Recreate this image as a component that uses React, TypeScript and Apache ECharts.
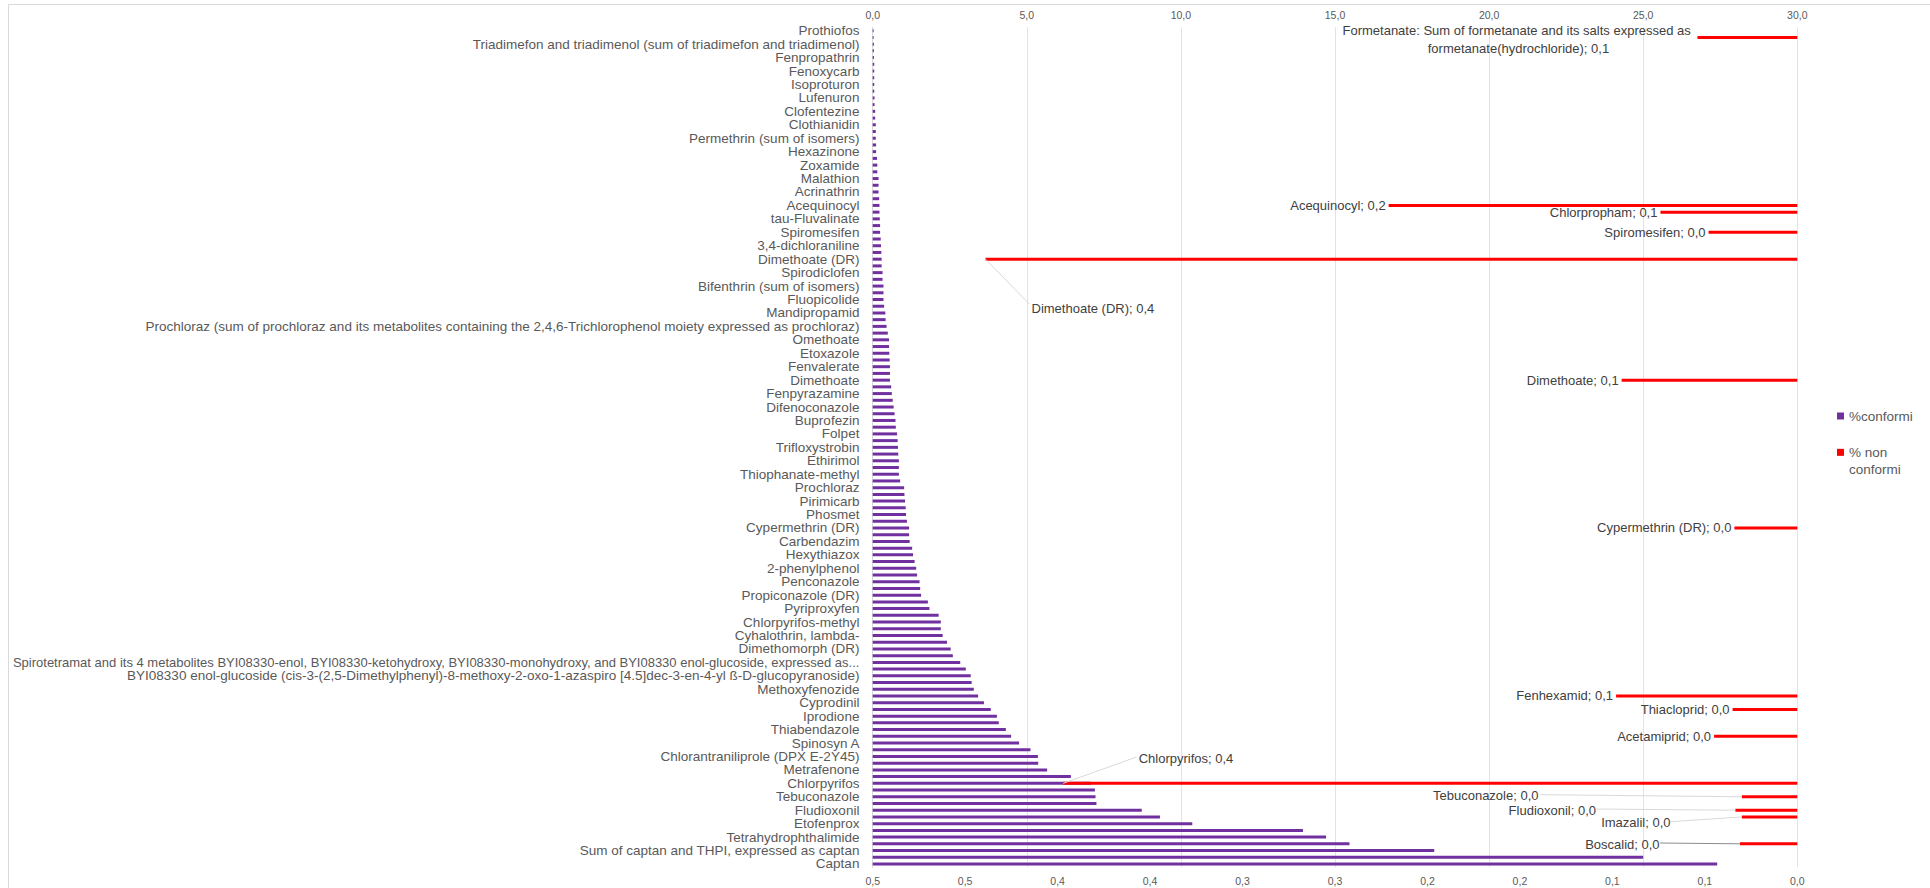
import React, { useEffect, useRef } from 'react';
import * as echarts from 'echarts';

// Category labels shown on the axis (every other category, top to bottom)
const shownLabels: string[] = [
  'Prothiofos',
  'Triadimefon and triadimenol (sum of triadimefon and triadimenol)',
  'Fenpropathrin',
  'Fenoxycarb',
  'Isoproturon',
  'Lufenuron',
  'Clofentezine',
  'Clothianidin',
  'Permethrin (sum of isomers)',
  'Hexazinone',
  'Zoxamide',
  'Malathion',
  'Acrinathrin',
  'Acequinocyl',
  'tau-Fluvalinate',
  'Spiromesifen',
  '3,4-dichloraniline',
  'Dimethoate (DR)',
  'Spirodiclofen',
  'Bifenthrin (sum of isomers)',
  'Fluopicolide',
  'Mandipropamid',
  'Prochloraz (sum of prochloraz and its metabolites containing the 2,4,6-Trichlorophenol moiety expressed as prochloraz)',
  'Omethoate',
  'Etoxazole',
  'Fenvalerate',
  'Dimethoate',
  'Fenpyrazamine',
  'Difenoconazole',
  'Buprofezin',
  'Folpet',
  'Trifloxystrobin',
  'Ethirimol',
  'Thiophanate-methyl',
  'Prochloraz',
  'Pirimicarb',
  'Phosmet',
  'Cypermethrin (DR)',
  'Carbendazim',
  'Hexythiazox',
  '2-phenylphenol',
  'Penconazole',
  'Propiconazole (DR)',
  'Pyriproxyfen',
  'Chlorpyrifos-methyl',
  'Cyhalothrin, lambda-',
  'Dimethomorph (DR)',
  'Spirotetramat and its 4 metabolites BYI08330-enol, BYI08330-ketohydroxy, BYI08330-monohydroxy, and BYI08330 enol-glucoside, expressed as...',
  'BYI08330 enol-glucoside (cis-3-(2,5-Dimethylphenyl)-8-methoxy-2-oxo-1-azaspiro [4.5]dec-3-en-4-yl ß-D-glucopyranoside)',
  'Methoxyfenozide',
  'Cyprodinil',
  'Iprodione',
  'Thiabendazole',
  'Spinosyn A',
  'Chlorantraniliprole (DPX E-2Y45)',
  'Metrafenone',
  'Chlorpyrifos',
  'Tebuconazole',
  'Fludioxonil',
  'Etofenprox',
  'Tetrahydrophthalimide',
  'Sum of captan and THPI, expressed as captan',
  'Captan',
];

// Categories between the shown labels (their axis labels are skipped)
const hiddenLabels: string[] = [
  'Formetanate: Sum of formetanate and its salts expressed as formetanate(hydrochloride)',
  '', '', '', '', '', '', '', '', '', '', '', '',
  'Chlorpropham',
  '', '', '', '', '', '', '', '', '', '', '', '', '', '', '', '', '', '', '', '', '', '', '', '', '', '', '', '', '', '', '', '', '', '', '',
  'Fenhexamid',
  'Thiacloprid',
  '',
  'Acetamiprid',
  '', '', '', '', '',
  'Imazalil',
  '',
  'Boscalid',
  '',
];

const categories: string[] = [];
shownLabels.forEach((s, i) => {
  categories.push(s);
  if (i < hiddenLabels.length) categories.push(hiddenLabels[i]);
});

// %conformi (top axis), one value per category, top to bottom
const conformi: number[] = [
  0.03, 0.03, 0.04, 0.04, 0.04, 0.05, 0.05, 0.05, 0.05, 0.05,
  0.06, 0.06, 0.08, 0.08, 0.10, 0.10, 0.10, 0.11, 0.11, 0.14,
  0.15, 0.15, 0.19, 0.19, 0.19, 0.21, 0.22, 0.22, 0.23, 0.24,
  0.24, 0.26, 0.27, 0.28, 0.29, 0.29, 0.32, 0.32, 0.35, 0.35,
  0.35, 0.37, 0.41, 0.42, 0.45, 0.49, 0.53, 0.53, 0.54, 0.55,
  0.56, 0.56, 0.56, 0.60, 0.62, 0.65, 0.68, 0.71, 0.74, 0.75,
  0.79, 0.81, 0.82, 0.83, 0.85, 0.85, 0.85, 0.89, 1.02, 1.03,
  1.05, 1.07, 1.08, 1.11, 1.18, 1.18, 1.20, 1.28, 1.31, 1.36,
  1.41, 1.44, 1.52, 1.54, 1.57, 1.79, 1.84, 2.14, 2.21, 2.21,
  2.27, 2.41, 2.53, 2.60, 2.84, 3.02, 3.18, 3.21, 3.28, 3.42,
  3.61, 3.83, 4.03, 4.09, 4.32, 4.49, 4.75, 5.12, 5.36, 5.37,
  5.66, 6.43, 7.09, 7.21, 7.23, 7.26, 8.73, 9.32, 10.37, 13.96,
  14.71, 15.47, 18.22, 25.0, 27.4,
];

// % non conformi (bottom, reversed axis)
const nonConformiNames: string[] = [
  'Formetanate: Sum of formetanate and its salts expressed as formetanate(hydrochloride)',
  'Acequinocyl',
  'Chlorpropham',
  'Spiromesifen',
  'Dimethoate (DR)',
  'Dimethoate',
  'Cypermethrin (DR)',
  'Fenhexamid',
  'Thiacloprid',
  'Acetamiprid',
  'Chlorpyrifos',
  'Tebuconazole',
  'Fludioxonil',
  'Imazalil',
  'Boscalid',
];
const nonConformiValues: number[] = [
  0.054, 0.221, 0.074, 0.048, 0.439, 0.095, 0.034, 0.098, 0.035, 0.045,
  0.397, 0.030, 0.0335, 0.030, 0.031,
];

const topTickLabels: string[] = ['0,0', '5,0', '10,0', '15,0', '20,0', '25,0', '30,0'];
const bottomTickLabels: string[] = ['0,0', '0,1', '0,1', '0,2', '0,2', '0,3', '0,3', '0,4', '0,4', '0,5', '0,5'];

const FONT = '"Liberation Sans", Arial, sans-serif';
const AXIS_GREY = '#595959';
const LABEL_GREY = '#404040';

type Placement = {
  dx: number;
  dy: number;
  align: 'left' | 'right' | 'center';
  width?: number;
  line?: [number, number];
  lineColor?: string;
};

const defaultPlacement: Placement = { dx: -3, dy: 0, align: 'right' };
const labelPlacement: Record<string, Placement> = {
  'Formetanate: Sum of formetanate and its salts expressed as formetanate(hydrochloride)': {
    dx: -179, dy: 1.6, align: 'center', width: 380,
  },
  'Dimethoate (DR)': { dx: 46, dy: 49, align: 'left', line: [44, 45] },
  Chlorpyrifos: { dx: 75.5, dy: -24.5, align: 'left', line: [73.5, -26.4] },
  Tebuconazole: { dx: -203.3, dy: -0.8, align: 'right', line: [-201.8, -2.1] },
  Fludioxonil: { dx: -139.3, dy: 0.5, align: 'right', line: [-139, -1.2] },
  Imazalil: { dx: -71.3, dy: 5.3, align: 'right', line: [-70.6, 4.7] },
  Boscalid: { dx: -80.4, dy: 0.2, align: 'right', line: [-79.7, -0.8], lineColor: '#8c8c8c' },
};

const fmt1 = (v: number) => v.toFixed(1).replace('.', ',');

export default function App() {
  const ref = useRef<HTMLDivElement>(null);

  useEffect(() => {
    if (!ref.current) return;
    const chart = echarts.init(ref.current, null, { renderer: 'svg' });

    const redData = categories.map((c) => {
      const i = c === '' ? -1 : nonConformiNames.indexOf(c);
      return i >= 0 ? nonConformiValues[i] : '-';
    });
    const labelData = nonConformiNames.map((n, i) => [nonConformiValues[i], categories.indexOf(n)]);

    const renderItem = (params: any, api: any) => {
      const v = api.value(0) as number;
      const idx = api.value(1) as number;
      const name = categories[idx];
      const pt = api.coord([v, idx]);
      const p = labelPlacement[name] || defaultPlacement;
      const text = `${name}; ${fmt1(v)}`;
      const children: any[] = [];
      if (p.line) {
        children.push({
          type: 'line',
          shape: { x1: pt[0], y1: pt[1], x2: pt[0] + p.line[0], y2: pt[1] + p.line[1] },
          style: { stroke: p.lineColor || '#d9d9d9', lineWidth: 1 },
        });
      }
      const style: any = {
        text,
        fill: LABEL_GREY,
        fontSize: 13,
        fontFamily: FONT,
        align: p.align,
        textAlign: p.align,
        verticalAlign: 'middle',
        textVerticalAlign: 'middle',
        lineHeight: 18,
      };
      if (p.width) {
        style.width = p.width;
        style.overflow = 'break';
      }
      children.push({ type: 'text', x: pt[0] + p.dx, y: pt[1] + p.dy, style });
      return { type: 'group', children };
    };

    chart.setOption({
      animation: false,
      textStyle: { fontFamily: FONT },
      graphic: [
        {
          type: 'rect',
          silent: true,
          shape: { x: 8.5, y: 4.5, width: 1940, height: 900 },
          style: { fill: 'none', stroke: '#d9d9d9', lineWidth: 1 },
        },
      ],
      legend: [
        {
          orient: 'vertical',
          left: 1837,
          top: 407.5,
          padding: 0,
          itemWidth: 7,
          itemHeight: 7,
          icon: 'rect',
          data: ['%conformi'],
          textStyle: { color: AXIS_GREY, fontSize: 13.5, fontFamily: FONT, lineHeight: 17 },
        },
        {
          orient: 'vertical',
          left: 1837,
          top: 426.4,
          padding: 0,
          itemWidth: 7,
          itemHeight: 7,
          icon: 'rect',
          data: ['% non conformi'],
          formatter: () => '\n% non\nconformi',
          textStyle: {
            color: AXIS_GREY,
            fontSize: 13.5,
            fontFamily: FONT,
            lineHeight: 17.3,
          },
        },
      ],
      grid: { left: 872.7, right: 132.7, top: 27.34, height: 840, containLabel: false, outerBoundsMode: 'none' },
      xAxis: [
        {
          type: 'value',
          position: 'top',
          min: 0,
          max: 30,
          interval: 5,
          axisLine: { show: false },
          axisTick: { show: false },
          splitLine: { show: true, lineStyle: { color: '#e3e3e3', width: 1 } },
          axisLabel: {
            formatter: (v: number) => topTickLabels[Math.round(v / 5)],
            color: AXIS_GREY,
            fontSize: 10.5,
            fontFamily: FONT,
            margin: 7,
            showMinLabel: true,
            showMaxLabel: true,
          },
        },
        {
          type: 'value',
          position: 'bottom',
          inverse: true,
          min: 0,
          max: 0.5,
          interval: 0.05,
          axisLine: { show: false },
          axisTick: { show: false },
          splitLine: { show: false },
          axisLabel: {
            formatter: (v: number) => bottomTickLabels[Math.round(v / 0.05)],
            color: AXIS_GREY,
            fontSize: 10.5,
            fontFamily: FONT,
            margin: 8,
            showMinLabel: true,
            showMaxLabel: true,
          },
        },
      ],
      yAxis: {
        type: 'category',
        inverse: true,
        data: categories,
        axisLine: { show: true, onZero: false, lineStyle: { color: '#d9d9d9', width: 1 } },
        axisTick: { show: false },
        axisLabel: {
          interval: 0,
          color: AXIS_GREY,
          fontSize: 13.5,
          lineHeight: 12,
          fontFamily: FONT,
          margin: 13.3,
          hideOverlap: false,
          formatter: (value: string, index: number) => {
            if (index % 2 === 1) return '';
            return value.startsWith('Spirotetramat') ? `{s|${value}}` : value;
          },
          rich: {
            s: { fontSize: 13, lineHeight: 12, color: AXIS_GREY, fontFamily: FONT },
          },
        },
      },
      series: [
        {
          name: '%conformi',
          type: 'bar',
          xAxisIndex: 0,
          yAxisIndex: 0,
          data: conformi,
          barWidth: 3,
          barGap: '-100%',
          itemStyle: { color: '#7030A0' },
        },
        {
          name: '% non conformi',
          type: 'bar',
          xAxisIndex: 1,
          yAxisIndex: 0,
          data: redData,
          barWidth: 3,
          barGap: '-100%',
          itemStyle: { color: '#FF0000' },
        },
        {
          type: 'custom',
          xAxisIndex: 1,
          yAxisIndex: 0,
          data: labelData,
          encode: { x: 0, y: 1 },
          renderItem,
          silent: true,
          z: 10,
        },
      ],
    });

    return () => chart.dispose();
  }, []);

  return (
    <div
      ref={ref}
      style={{ position: 'absolute', left: 0, top: 0, width: '1930px', height: '888px', background: '#fff' }}
    />
  );
}
